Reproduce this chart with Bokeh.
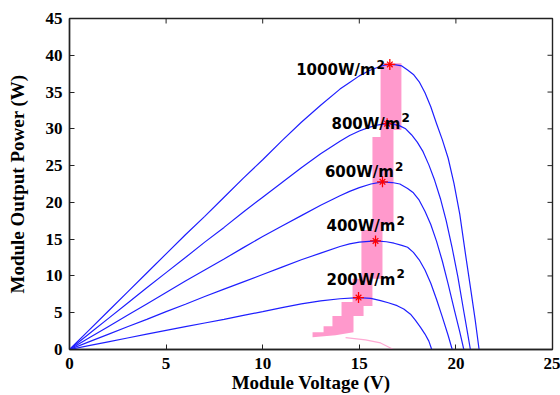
import math
from bokeh.plotting import figure
from bokeh.models import FixedTicker, Range1d
from bokeh.core.properties import value
from bokeh.embed import file_html
from bokeh.resources import INLINE

# ---- data ----
x_ticks = [0, 5, 10, 15, 20, 25]
y_ticks = [0, 5, 10, 15, 20, 25, 30, 35, 40, 45]
x_inner_ticks = [5, 10, 15, 20]
y_inner_ticks = [5, 10, 15, 20, 25, 30, 35, 40]

v_1000 = [0, 1, 2, 3, 4, 5, 6, 7, 8, 9, 10, 11, 12, 13, 14, 14.5, 15, 15.5, 16, 16.3, 16.6, 16.9,
          17.2, 17.5, 17.8, 18.1, 18.4, 18.7, 19.0, 19.3, 19.6, 19.9, 20.2, 20.5, 20.8, 21.0, 21.2]
p_1000 = [0, 2.6, 5.2, 7.8, 10.4, 13.0, 15.6, 18.1, 20.7, 23.3, 25.8, 28.4, 30.9, 33.2, 35.4, 36.3, 37.2,
          37.9, 38.4, 38.65, 38.75, 38.7, 38.55, 38.0, 37.4, 36.4, 34.9, 33.0, 30.7, 28.5, 26.0, 22.6,
          18.4, 12.9, 7.6, 4.0, 0]

v_800 = [0, 1, 2, 3, 4, 5, 6, 7, 8, 9, 10, 11, 12, 13, 14, 14.5, 15, 15.5, 16, 16.44, 16.8, 17.1,
         17.4, 17.7, 18.0, 18.3, 18.6, 18.9, 19.2, 19.5, 19.8, 20.1, 20.4, 20.6, 20.75]
p_800 = [0, 2.1, 4.2, 6.3, 8.4, 10.45, 12.5, 14.6, 16.6, 18.7, 20.7, 22.7, 24.7, 26.6, 28.3, 29.1, 29.7,
         30.2, 30.55, 30.7, 30.6, 30.4, 30.0, 29.2, 28.2, 26.9, 25.1, 23.0, 20.5, 17.5, 13.9, 9.9, 5.3,
         2.3, 0]

v_600 = [0, 1, 2, 3, 4, 5, 6, 7, 8, 9, 10, 11, 12, 13, 14, 14.5, 15, 15.6, 16.2, 16.7, 17.1, 17.5,
         17.8, 18.1, 18.4, 18.7, 19.0, 19.3, 19.6, 19.9, 20.2, 20.41]
p_600 = [0, 1.55, 3.1, 4.65, 6.2, 7.75, 9.3, 10.8, 12.3, 13.85, 15.35, 16.8, 18.2, 19.6, 20.9, 21.5,
         22.0, 22.5, 22.8, 22.7, 22.5, 21.9, 21.3, 20.3, 18.8, 17.0, 14.7, 12.0, 8.9, 5.6, 2.4, 0]

v_400 = [0, 1, 2, 3, 4, 5, 6, 7, 8, 9, 10, 11, 12, 13, 14, 14.5, 15, 15.84, 16.4, 16.8, 17.2, 17.5,
         17.8, 18.1, 18.4, 18.7, 19.0, 19.3, 19.6, 19.81]
p_400 = [0, 1.03, 2.06, 3.1, 4.1, 5.15, 6.15, 7.2, 8.2, 9.2, 10.2, 11.2, 12.2, 13.1, 14.0, 14.35, 14.6,
         14.76, 14.65, 14.45, 14.15, 13.9, 13.2, 12.2, 10.8, 9.0, 6.8, 4.4, 1.9, 0]

v_200 = [0, 1, 2, 3, 4, 5, 6, 7, 8, 9, 10, 11, 12, 13, 14, 14.96, 15.6, 16.1, 16.5, 16.96, 17.3,
         17.65, 17.9, 18.17, 18.4, 18.6, 18.75]
p_200 = [0, 0.52, 1.04, 1.56, 2.08, 2.6, 3.1, 3.6, 4.1, 4.65, 5.15, 5.7, 6.2, 6.6, 6.9, 7.06, 6.95,
         6.65, 6.35, 5.96, 5.5, 4.8, 4.0, 3.0, 2.1, 1.14, 0]

# maximum power points
mpp_v = [16.58, 16.44, 16.2, 15.84, 14.96]
mpp_p = [38.75, 30.7, 22.8, 14.76, 7.06]

# shaded MPP tracking region (stepped band)
band_v = [16.10, 17.18, 17.18, 16.77, 16.77, 16.20, 16.20, 15.68, 15.68, 15.22, 15.22, 14.70, 14.70,
          13.77, 12.58, 12.58, 13.15, 13.15, 13.61, 13.61, 14.08, 14.08, 14.65, 14.65, 15.11, 15.11,
          15.68, 15.68, 16.10]
band_p = [38.93, 38.93, 29.85, 29.85, 17.0, 17.0, 9.63, 9.63, 5.91, 5.91, 4.54, 4.54, 2.34,
          1.93, 1.65, 2.34, 2.34, 3.16, 3.16, 4.54, 4.54, 6.46, 6.46, 9.63, 9.63, 16.23,
          16.23, 28.89, 28.89]

# faint pink tail curve
tail_v = [14.29, 15.32, 16.10, 16.77]
tail_p = [1.61, 1.31, 0.89, 0.0]

# irradiance labels (right end of text, baseline)
lab_text = ["1000W/m", "800W/m", "600W/m", "400W/m", "200W/m"]
lab_v = [15.84, 17.13, 16.79, 16.87, 16.87]
lab_p = [37.96, 30.72, 24.07, 16.74, 9.49]
sup_text = ["2", "2", "2", "2", "2"]

# ---- figure ----
p = figure(width=560, height=395, x_range=Range1d(0, 25), y_range=Range1d(0, 45),
           output_backend="svg", toolbar_location=None,
           min_border_left=69, min_border_top=18, min_border_right=8, min_border_bottom=20)
p.background_fill_color = "white"
p.border_fill_color = "white"
p.outline_line_color = "#222222"
p.outline_line_width = 1.4
p.xgrid.visible = False
p.ygrid.visible = False

tick_font = "Liberation Serif"

def style_axis(ax, ticks):
    ax.ticker = FixedTicker(ticks=ticks)
    ax.minor_tick_line_color = None
    ax.major_tick_in = 5
    ax.major_tick_out = 0
    ax.major_tick_line_color = "#222222"
    ax.axis_line_color = "#222222"
    ax.axis_line_width = 1.4
    ax.major_label_text_font = tick_font
    ax.major_label_text_font_style = "bold"
    ax.major_label_text_font_size = "17px"
    ax.major_label_text_color = "black"
    ax.axis_label_text_font = tick_font
    ax.axis_label_text_font_style = "bold"
    ax.axis_label_text_font_size = "19px"
    ax.axis_label_text_color = "black"

xa = p.xaxis[0]
ya = p.yaxis[0]
style_axis(xa, x_ticks)
style_axis(ya, y_ticks)
xa.axis_label = "Module Voltage (V)"
ya.axis_label = "Module Output Power (W)"
xa.major_label_standoff = 8
xa.axis_label_standoff = 0
ya.major_label_standoff = 7
ya.axis_label_standoff = 15

# inward ticks on the top and right edges of the box
p.scatter(x_inner_ticks, [45] * len(x_inner_ticks), marker="dash", angle=math.pi / 2, size=10,
          line_color="#222222", line_width=1)
p.scatter([25] * len(y_inner_ticks), y_inner_ticks, marker="dash", size=10,
          line_color="#222222", line_width=1)

# shaded band
p.patch(band_v, band_p, fill_color="#ff99cc", line_color=None, fill_alpha=1.0)
p.line(tail_v, tail_p, line_color="#ffaad4", line_width=1.2)

blue = "#1f1fff"
for vv, pp in [(v_1000, p_1000), (v_800, p_800), (v_600, p_600), (v_400, p_400), (v_200, p_200)]:
    p.line(vv, pp, line_color=blue, line_width=1.2)

p.scatter(mpp_v, mpp_p, marker="cross", size=11, line_color="red", line_width=1.3)
p.scatter(mpp_v, mpp_p, marker="x", size=8, line_color="red", line_width=1.3)

p.text(x=lab_v, y=lab_p, text=lab_text, text_align="right", text_baseline="alphabetic",
       text_font=value("DejaVu Sans"), text_font_style="bold", text_font_size="15px",
       text_color="black")
p.text(x=lab_v, y=lab_p, text=sup_text, text_align="left", text_baseline="alphabetic",
       x_offset=1, y_offset=-6, text_font=value("DejaVu Sans"), text_font_style="bold",
       text_font_size="12px", text_color="black")

open("out.html", "w").write(file_html(p, INLINE))
